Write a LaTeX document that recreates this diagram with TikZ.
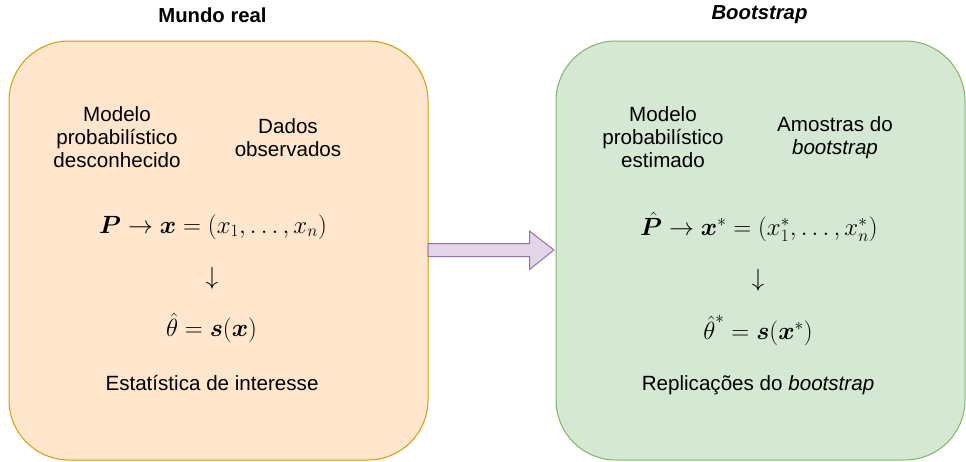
\documentclass[tikz,border=0pt]{standalone}
\usepackage{amsmath,bm}
\usepackage[no-math]{fontspec}
\setmainfont{Liberation Sans}
\definecolor{orfill}{HTML}{FFE6CC}
\definecolor{ordraw}{HTML}{D79B00}
\definecolor{grfill}{HTML}{D5E8D4}
\definecolor{grdraw}{HTML}{82B366}
\definecolor{pufill}{HTML}{E1D5E7}
\definecolor{pudraw}{HTML}{9673A6}
\tikzset{
  panel/.style={line width=1pt, rounded corners=60pt},
  txt/.style={align=center, inner sep=0pt, font=\fontsize{20.6}{23}\selectfont},
  ttl/.style={inner sep=0pt, font=\fontsize{20.3}{23}\selectfont\bfseries},
  mth/.style={inner sep=0pt, font=\fontsize{23.5}{26}\selectfont},
}
\begin{document}
\begin{tikzpicture}[x=1pt,y=-1pt]
\useasboundingbox (0,0) rectangle (966,461);
% panels
\draw[panel, fill=orfill, draw=ordraw] (9,41) rectangle (428,460);
\draw[panel, fill=grfill, draw=grdraw] (556,41) rectangle (965,460);
\coordinate (L) at (428,250);
\coordinate (R) at (556,250);
% big arrow
\draw[line width=1pt, fill=pufill, draw=pudraw]
  ([yshift=6.5pt]L) -- (529.5,243.5) -- (529.5,231) -- (554,250) -- (529.5,269.5) -- (529.5,256.5) -- ([yshift=-6.5pt]L) -- cycle;
% titles
\node[ttl] (t1) at (212.5,15) {Mundo real};
\node[ttl] (t2) at (759.5,15) {\itshape Bootstrap};
% left texts
\node[txt] (l1) at (117,137) {Modelo\\probabilístico\\desconhecido};
\node[txt] (l2) at (288,138) {Dados\\observados};
\node[mth] (l3) at (213,227) {$\boldsymbol{P}\rightarrow\boldsymbol{x}=(x_1,\ldots,x_n)$};
\node[mth] (l4) at (212,278) {$\downarrow$};
\node[mth] (l5) at (211.5,328) {$\hat{\theta}=\boldsymbol{s}(\boldsymbol{x})$};
\node[txt] (l6) at (212,383) {Estatística de interesse};
% right texts
\node[txt] (r1) at (663,137) {Modelo\\probabilístico\\estimado};
\node[txt] (r2) at (835,138) {Amostras do\\\itshape bootstrap};
\node[mth] (r3) at (759,227) {$\hat{\boldsymbol{P}}\rightarrow\boldsymbol{x}^{*}=(x_1^{*},\ldots,x_n^{*})$};
\node[mth] (r4) at (758,280) {$\downarrow$};
\node[mth] (r5) at (758,331) {$\hat{\theta}^{\raisebox{0.3em}{$\scriptstyle *$}}=\boldsymbol{s}(\boldsymbol{x}^{*})$};
\node[txt] (r6) at (758,385) {Replicações do \textit{bootstrap}};
\end{tikzpicture}
\end{document}
